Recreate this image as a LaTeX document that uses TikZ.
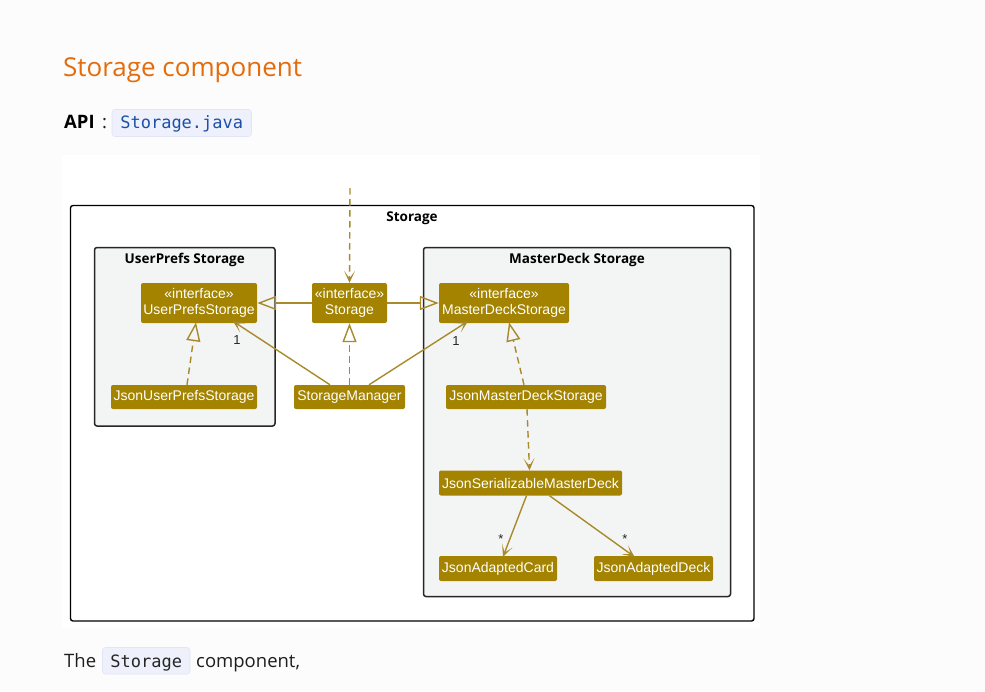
\documentclass[tikz,border=0pt]{standalone}
\usepackage{fontspec}
\setmainfont{Open Sans}
\newfontfamily\umlfont{Liberation Sans}
\newfontfamily\codefont{DejaVu Sans Mono}
\usetikzlibrary{arrows.meta,calc}
\definecolor{pagebg}{HTML}{FCFCFC}
\definecolor{headorange}{HTML}{E46C0A}
\definecolor{nodefill}{HTML}{A38300}
\definecolor{edgecol}{HTML}{A8892C}
\definecolor{pkgfill}{HTML}{F3F5F5}
\definecolor{codebg}{HTML}{EEF0FB}
\definecolor{codeborder}{HTML}{E2E5F5}
\definecolor{codeblue}{HTML}{1C4FA8}
\definecolor{bodytext}{HTML}{1E1E1E}
\begin{document}
\begin{tikzpicture}[x=1pt,y=-1pt,
  cls/.style={rectangle, rounded corners=2pt, fill=nodefill, text=white,
    font=\umlfont\fontsize{14}{15.5}\selectfont, inner sep=0pt, align=center},
  pkg/.style={draw=black!85, line width=1.5pt, fill=pkgfill, rounded corners=2.5pt},
  pkgtitle/.style={font=\fontsize{13.5}{16}\selectfont\bfseries, anchor=base, text=black},
  rel/.style={draw=edgecol, line width=1.4pt},
  dashrel/.style={rel, dash pattern=on 6.5pt off 4.5pt},
  openhead/.style={-{Stealth[length=12pt,width=11pt,inset=7.5pt]}},
  trihead/.style={-{Triangle[open,length=19pt,width=14pt,line width=1.4pt]}},
  mult/.style={font=\umlfont\fontsize{13}{14}\selectfont, text=black!85, inner sep=0pt},
  codebox/.style={draw=codeborder, fill=codebg, rounded corners=3pt, line width=0.6pt},
  codetxt/.style={font=\codefont\fontsize{17}{20}\selectfont, anchor=base, inner sep=0pt},
  bodytxt/.style={font=\fontsize{18.5}{22}\selectfont, text=bodytext, anchor=base west, inner sep=0pt}
]
\useasboundingbox (0,0) rectangle (985,691);
\fill[pagebg] (0,0) rectangle (985,691);
% heading
\node[font=\fontsize{26}{30}\selectfont, text=headorange, anchor=base west, inner sep=0pt] (head) at (63,76) {Storage component};
\node[bodytxt, font=\fontsize{18.5}{22}\selectfont\bfseries, text=black] (api) at (64,128.5) {API};
\node[bodytxt] (colon) at (102,128.5) {:};
\draw[codebox] (112,109.5) rectangle (251.5,136.5);
\node[codetxt, text=codeblue] (apicode) at (181.75,128.5) {Storage.java};
% image area
\fill[white] (62,155) rectangle (760,628);
% outer package
\draw[draw=black, line width=1.4pt, fill=white, rounded corners=2.5pt] (70.5,205.5) rectangle (754,621);
\node[pkgtitle] (storagetitle) at (412,221) {Storage};
% sub packages
\draw[pkg] (94.5,247.5) rectangle (275,426);
\node[pkgtitle] (uptitle) at (184.75,263) {UserPrefs Storage};
\draw[pkg] (423.5,247.5) rectangle (730.5,596.5);
\node[pkgtitle] (mdtitle) at (577,263) {MasterDeck Storage};
% classes
\node[cls, minimum width=116pt, minimum height=40pt] (ups) at (199,303) {«interface»\\UserPrefsStorage};
\node[cls, minimum width=75pt, minimum height=40pt] (sto) at (349.5,303) {«interface»\\Storage};
\node[cls, minimum width=130pt, minimum height=40pt] (mds) at (504,303) {«interface»\\MasterDeckStorage};
\node[cls, minimum width=146pt, minimum height=24pt] (jups) at (184,397) {JsonUserPrefsStorage};
\node[cls, minimum width=111pt, minimum height=24pt] (sm) at (349.5,397) {StorageManager};
\node[cls, minimum width=160pt, minimum height=24pt] (jmds) at (526,397) {JsonMasterDeckStorage};
\node[cls, minimum width=183pt, minimum height=25pt] (jsmd) at (530.5,483) {JsonSerializableMasterDeck};
\node[cls, minimum width=118pt, minimum height=25pt] (jac) at (498,568.5) {JsonAdaptedCard};
\node[cls, minimum width=119pt, minimum height=25pt] (jad) at (653.5,568.5) {JsonAdaptedDeck};
% connectors
\coordinate (topin) at (350,188);
\draw[dashrel, openhead] (topin) -- (sto.north);
\draw[rel, trihead] (sto.west) -- (ups.east);
\draw[rel, trihead] (sto.east) -- (mds.west);
\draw[dashrel, trihead] (sm.north) -- (sto.south);
\draw[rel, openhead] ([xshift=-19.5pt]sm.north) -- ([xshift=34pt,yshift=2pt]ups.south);
\draw[rel, openhead] ([xshift=19.5pt]sm.north) -- ([xshift=-36pt,yshift=2pt]mds.south);
\draw[dashrel, trihead] ([xshift=3pt]jups.north) -- ([xshift=-3pt,yshift=1pt]ups.south);
\draw[dashrel, trihead] ([xshift=-2pt]jmds.north) -- ([xshift=5pt,yshift=1pt]mds.south);
\draw[dashrel, openhead] ([xshift=1pt]jmds.south) -- ([xshift=-1pt]jsmd.north);
\draw[rel, openhead] ([xshift=-4pt]jsmd.south) -- ([xshift=5pt,yshift=-1pt]jac.north);
\draw[rel, openhead] ([xshift=19pt]jsmd.south) -- ([xshift=-19pt,yshift=-1pt]jad.north);
% multiplicities
\node[mult] (m1) at (237,340) {1};
\node[mult] (m2) at (456,341) {1};
\node[mult] (m3) at (501,539) {*};
\node[mult] (m4) at (625,539) {*};
% bottom text
\node[bodytxt] (the) at (64,667) {The};
\draw[codebox] (102.5,647.5) rectangle (190,674);
\node[codetxt, text=black!85] (stocode) at (146.25,667) {Storage};
\node[bodytxt] (comp) at (196,667) {component,};
\end{tikzpicture}
\end{document}
